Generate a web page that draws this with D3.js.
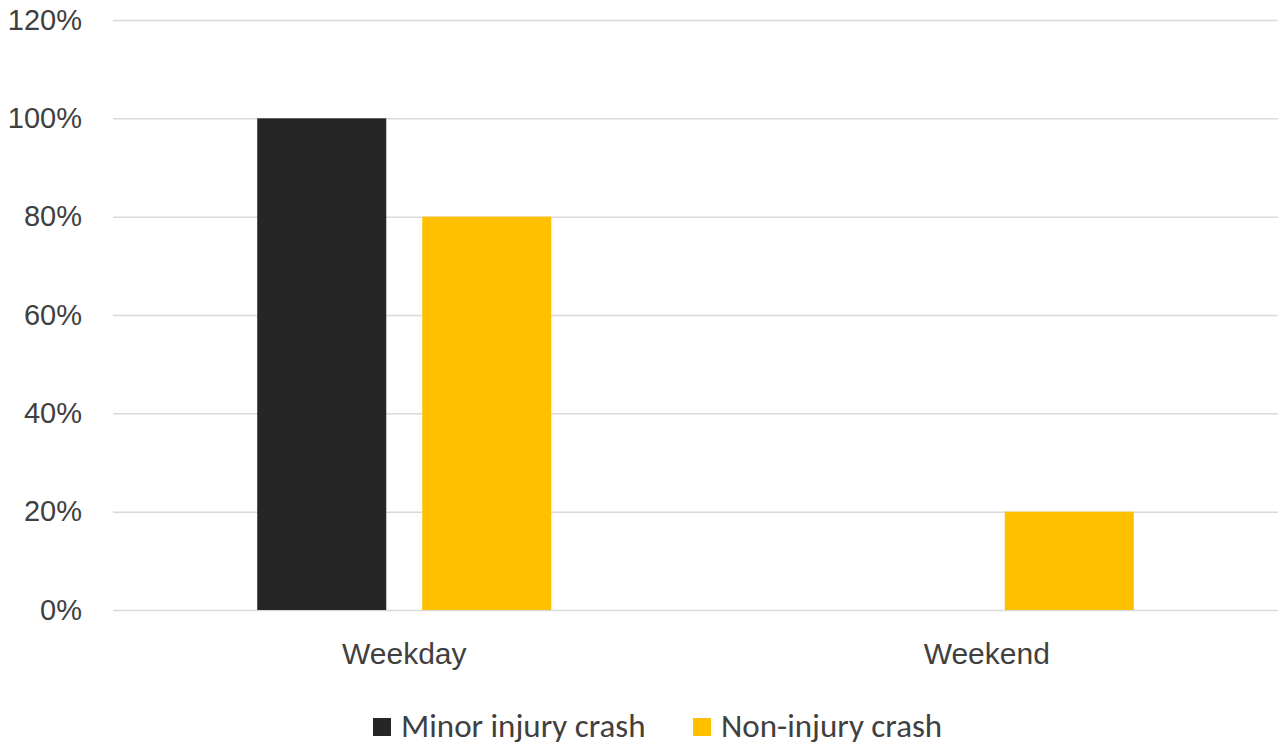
<!DOCTYPE html>
<html>
  <head>
    <meta charset="utf-8">
    <script src="https://d3js.org/d3.v7.min.js"></script>
    <style>
      body { margin: 0; background: #fff; font-family: Carlito, Calibri, Lato, sans-serif; }
      .domain { display: none; }
      .tick line { stroke: #D9D9D9; stroke-width: 1.5; }
      .y-axis .tick text { fill: #404040; font-size: 29px; }
      .x-axis .tick text { fill: #404040; font-size: 30px; }
      .legend text { fill: #404040; font-size: 33px; }
    </style>
  </head>
  <body>
    <svg id="chart" width="1279" height="744"></svg>
    <script>
      const categories = ['Weekday', 'Weekend'];
      const seriesNames = ['Minor injury crash', 'Non-injury crash'];
      const minorInjury = [1.0, 0.0];
      const nonInjury = [0.8, 0.2];
      const yTicks = [0, 0.2, 0.4, 0.6, 0.8, 1.0, 1.2];
      const colors = ['#262626', '#FFC000'];

      const svg = d3.select('#chart');
      const margin = { left: 113, right: 1, top: 20, bottom: 134 };
      const width = +svg.attr('width');
      const height = +svg.attr('height');
      const innerWidth = width - margin.left - margin.right;
      const innerHeight = height - margin.top - margin.bottom;

      const g = svg.append('g')
        .attr('transform', `translate(${margin.left},${margin.top})`);

      const xScale = d3.scaleBand().domain(categories).range([0, innerWidth]);
      const xSub = d3.scaleBand().domain(seriesNames)
        .range([0, xScale.bandwidth()])
        .paddingInner(0.218)
        .paddingOuter(0.874);
      const yScale = d3.scaleLinear().domain([0, 1.2]).range([innerHeight, 0]);

      const yAxis = d3.axisLeft(yScale)
        .tickValues(yTicks)
        .tickFormat(d3.format('.0%'))
        .tickSize(-innerWidth)
        .tickPadding(31);
      g.append('g').attr('class', 'y-axis').call(yAxis);

      const xAxis = d3.axisBottom(xScale).tickSize(0).tickPadding(33);
      g.append('g')
        .attr('class', 'x-axis')
        .attr('transform', `translate(0,${innerHeight})`)
        .call(xAxis);

      const rows = categories.map((c, i) => ({ cat: c, values: [minorInjury[i], nonInjury[i]] }));

      const groups = g.selectAll('.group').data(rows).enter().append('g')
        .attr('transform', d => `translate(${xScale(d.cat)},0)`);
      groups.selectAll('rect')
        .data(d => d.values.map((v, j) => ({ name: seriesNames[j], value: v, color: colors[j] })))
        .enter().append('rect')
          .attr('x', d => xSub(d.name))
          .attr('width', xSub.bandwidth())
          .attr('y', d => yScale(d.value))
          .attr('height', d => innerHeight - yScale(d.value))
          .attr('fill', d => d.color);

      // legend
      const legend = svg.append('g').attr('class', 'legend');
      const legendX = [373, 693];
      seriesNames.forEach((name, i) => {
        legend.append('rect')
          .attr('x', legendX[i]).attr('y', 718)
          .attr('width', 18).attr('height', 18)
          .attr('fill', colors[i]);
        legend.append('text')
          .attr('x', legendX[i] + 28).attr('y', 737)
          .text(name);
      });
    </script>
  </body>
</html>
